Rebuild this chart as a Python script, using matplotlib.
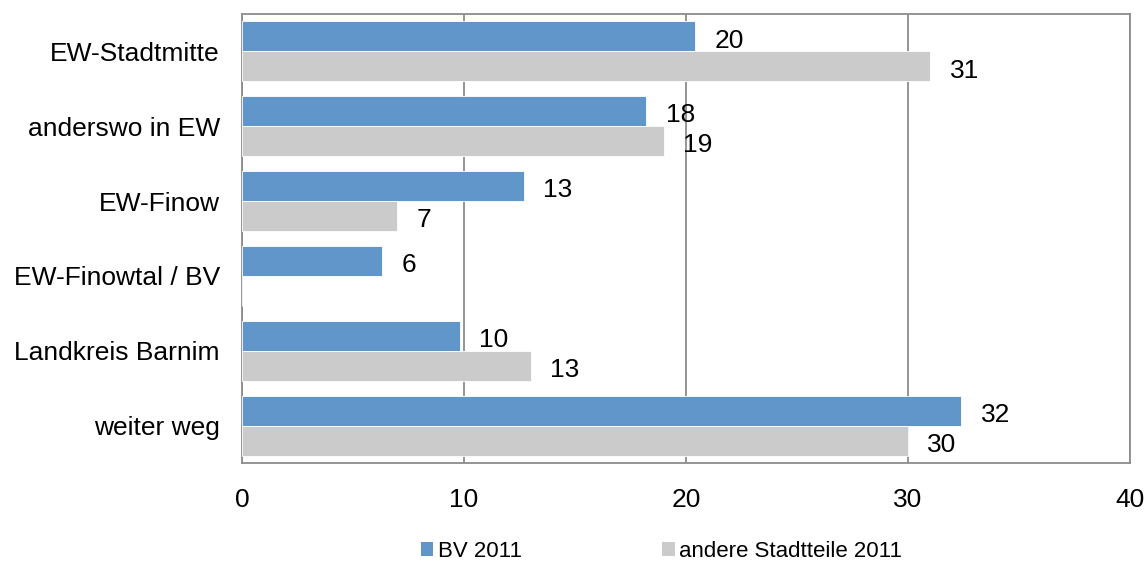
import matplotlib
matplotlib.use('Agg')
import matplotlib.pyplot as plt
import numpy as np
from matplotlib.patches import Patch

categories = ['EW-Stadtmitte', 'anderswo in EW', 'EW-Finow', 'EW-Finowtal / BV',
              'Landkreis Barnim', 'weiter weg']
bv_2011 = [20.4, 18.2, 12.7, 6.3, 9.8, 32.4]
andere_2011 = [31.0, 19.0, 7.0, np.nan, 13.0, 30.0]
bv_labels = ['20', '18', '13', '6', '10', '32']
andere_labels = ['31', '19', '7', '', '13', '30']
series_names = ['BV 2011', 'andere Stadtteile 2011']

blue = '#6096c9'
gray = '#cbcbcb'
grid_col = '#8c8c8c'

plt.rcParams['font.family'] = ['Liberation Sans', 'DejaVu Sans']
fs = 19

fig = plt.figure(figsize=(11.45, 5.65), dpi=100)
ax = fig.add_axes([0.2114, 0.1805, 0.7755, 0.7947])

y = np.arange(len(categories))
h = 0.4
ax.barh(y - h / 2, bv_2011, height=h, color=blue, edgecolor='white', linewidth=0.6, zorder=3)
ax.barh(y + h / 2, np.nan_to_num(andere_2011), height=h, color=gray, edgecolor='white', linewidth=0.6, zorder=3)

ax.set_xlim(0, 40)
ax.set_ylim(len(categories) - 0.5, -0.5)
ax.set_xticks([0, 10, 20, 30, 40])
ax.set_yticks(y)
ax.set_yticklabels(categories)
ax.tick_params(axis='both', length=0, labelsize=fs, colors='black')
ax.tick_params(axis='x', pad=18)
ax.tick_params(axis='y', pad=16)
for lbl in ax.get_yticklabels():
    lbl.set_verticalalignment('center_baseline')
ax.grid(axis='x', color=grid_col, linewidth=1.3, zorder=1)
for s in ax.spines.values():
    s.set_color(grid_col)
    s.set_linewidth(1.3)

# data labels, a bit below bar centre like the original
for i in range(len(categories)):
    ax.annotate(bv_labels[i], (bv_2011[i], y[i] - h / 2), xytext=(14, -3),
                textcoords='offset points', va='center', ha='left', fontsize=fs, zorder=4)
    if andere_labels[i]:
        ax.annotate(andere_labels[i], (andere_2011[i], y[i] + h / 2), xytext=(14, -3),
                    textcoords='offset points', va='center', ha='left', fontsize=fs, zorder=4)

handles = [Patch(facecolor=blue), Patch(facecolor=gray)]
fig.legend(handles, series_names, loc='center', bbox_to_anchor=(0.578, 0.024), ncol=2,
           frameon=False, fontsize=16, handlelength=0.55, handleheight=0.55,
           handletextpad=0.22, columnspacing=6.3, borderpad=0)

fig.savefig('out.png', dpi=100)
